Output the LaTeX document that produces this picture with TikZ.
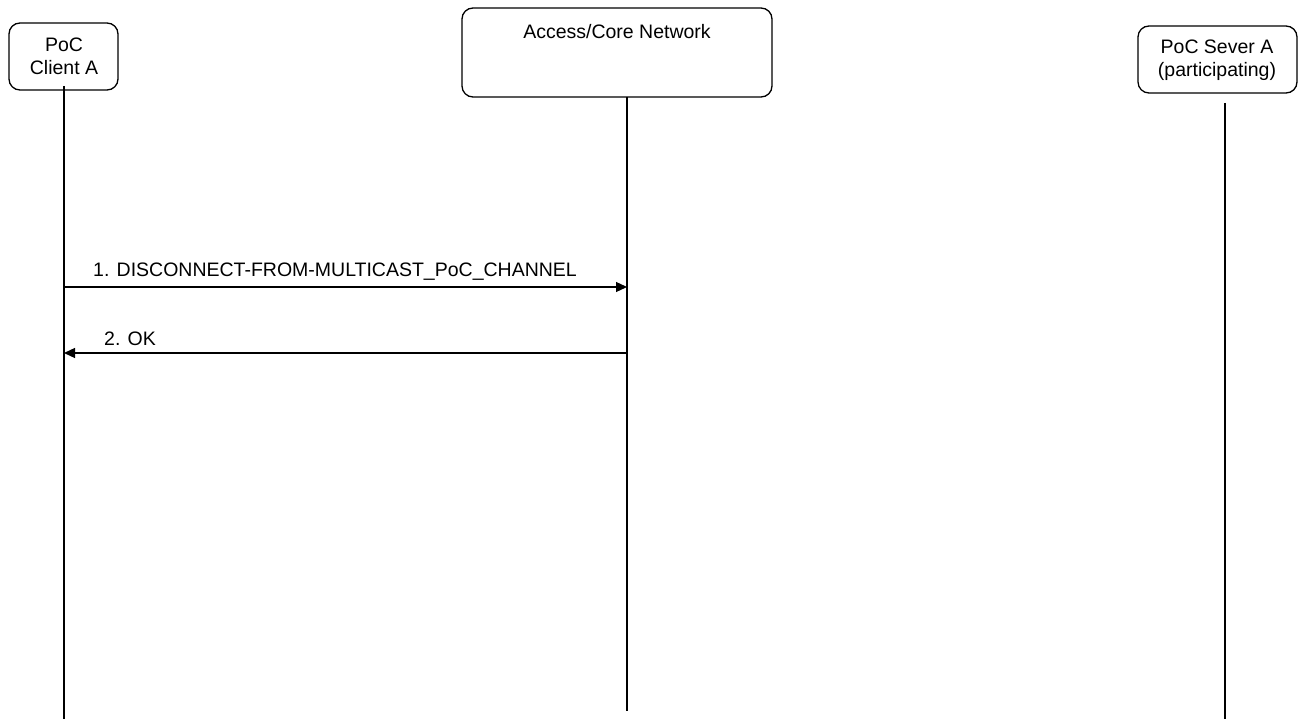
\documentclass[tikz,border=0pt]{standalone}
\usepackage{fontspec}
\setmainfont{Liberation Sans}
\usetikzlibrary{arrows.meta}
\begin{document}
\begin{tikzpicture}[x=1pt,y=-1pt,
  actor/.style={draw,rounded corners=11pt,line width=1.3pt},
  lbl/.style={font=\fontsize{19.5}{23}\selectfont,inner sep=0pt},
  life/.style={line width=1.3pt},
  msg/.style={line width=1.3pt,-{Triangle[length=11pt,width=10pt]}}]
\useasboundingbox (0,0) rectangle (1299,719);
% boxes
\draw[actor] (9,23) rectangle (118,90);
\node[lbl,align=center] (ca) at (64,56) {PoC\\Client A};
\draw[actor] (462,8) rectangle (772,97);
\node[lbl] (acn) at (617,32) {Access/Core Network};
\draw[actor] (1138,26) rectangle (1297,93);
\node[lbl,align=center] (sa) at (1217,60) {PoC Sever A\\(participating)};
% lifelines
\coordinate (a0) at (64,86);
\coordinate (a1) at (64,719);
\coordinate (n0) at (627,97);
\coordinate (n1) at (627,711);
\coordinate (s0) at (1225,103);
\coordinate (s1) at (1225,719);
\draw[life] (a0) -- (a1);
\draw[life] (n0) -- (n1);
\draw[life] (s0) -- (s1);
% messages
\coordinate (m1a) at (64,287);
\coordinate (m1b) at (627,287);
\draw[msg] (m1a) -- (m1b);
\node[lbl,anchor=base west] (l1) at (93,277) {1. DISCONNECT-FROM-MULTICAST\_PoC\_CHANNEL};
\coordinate (m2a) at (627,353);
\coordinate (m2b) at (64,353);
\draw[msg] (m2a) -- (m2b);
\node[lbl,anchor=base west] (l2) at (104,345) {2. OK};
\end{tikzpicture}
\end{document}
